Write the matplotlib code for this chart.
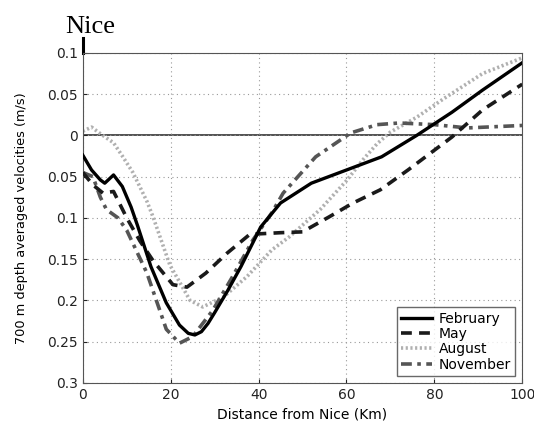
import matplotlib
matplotlib.use("Agg")
import matplotlib.pyplot as plt

# distance (km) / velocity (m/s)
feb_x = [0, 2, 4, 5, 7, 9, 11, 12.5, 15.5, 19, 22, 24, 25.5, 27, 28.5, 30, 33, 36, 40.5, 45, 52, 60, 68, 76, 84, 91, 100]
feb_y = [-0.024, -0.042, -0.054, -0.058, -0.048, -0.062, -0.087, -0.11, -0.159, -0.203, -0.23, -0.24, -0.242,
         -0.238, -0.228, -0.215, -0.188, -0.159, -0.111, -0.082, -0.058, -0.042, -0.026, 0.0, 0.028, 0.055, 0.088]

may_x = [0, 2.3, 4.6, 7, 10, 13, 16, 20.5, 23.7, 28, 32.8, 38, 45, 50, 56, 61.5, 67.7, 74, 84, 91, 100]
may_y = [-0.045, -0.06, -0.07, -0.068, -0.1, -0.128, -0.152, -0.181, -0.184, -0.167, -0.143, -0.12,
         -0.118, -0.117, -0.099, -0.082, -0.066, -0.042, -0.002, 0.031, 0.062]

aug_x = [0, 2, 4, 7, 9, 11.4, 14.6, 16, 19.8, 24.4, 27.3, 32, 37.4, 43, 47, 54, 60, 64, 67, 70, 76, 82, 91, 100]
aug_y = [0.005, 0.01, 0.002, -0.009, -0.025, -0.045, -0.08, -0.099, -0.157, -0.2, -0.208, -0.196, -0.171,
         -0.139, -0.123, -0.09, -0.055, -0.028, -0.01, 0.004, 0.022, 0.044, 0.075, 0.094]

nov_x = [0, 2.3, 4, 5.4, 8, 10, 14.6, 19, 22, 25, 29.6, 34, 38.7, 43, 45.6, 53, 61, 67, 72, 80, 87.5, 100]
nov_y = [-0.045, -0.05, -0.075, -0.09, -0.1, -0.115, -0.167, -0.235, -0.252, -0.244, -0.212, -0.172,
         -0.127, -0.094, -0.07, -0.026, 0.003, 0.013, 0.015, 0.013, 0.009, 0.012]

xticks = [0, 20, 40, 60, 80, 100]
yticks = [0.1, 0.05, 0, -0.05, -0.1, -0.15, -0.2, -0.25, -0.3]
ylabels = ["0.1", "0.05", "0", "0.05", "0.1", "0.15", "0.2", "0.25", "0.3"]

fig = plt.figure(figsize=(5.34, 4.23), dpi=100)
ax = fig.add_axes([0.155, 0.095, 0.823, 0.78])

ax.axhline(0, color="#333333", lw=1.2, zorder=1)
ax.plot(feb_x, feb_y, color="black", lw=2.4, label="February", zorder=4)
ax.plot(may_x, may_y, color="#1a1a1a", lw=2.6, ls=(0, (3, 2)), label="May", zorder=3)
ax.plot(aug_x, aug_y, color="#b0b0b0", lw=2.6, ls=(0, (0.6, 0.7)), label="August", zorder=2)
ax.plot(nov_x, nov_y, color="#555555", lw=2.6, ls=(0, (3, 1.5, 1, 1.5)), label="November", zorder=2)

ax.set_xlim(0, 100)
ax.set_ylim(-0.3, 0.1)
ax.set_xticks(xticks)
ax.set_yticks(yticks)
ax.set_yticklabels(ylabels)
ax.tick_params(direction="in", labelsize=10, colors="#222222", length=3)
ax.grid(True, ls=(0, (1, 3)), color="#999999", lw=0.8)
for s in ax.spines.values():
    s.set_color("#555555")

ax.set_xlabel("Distance from Nice (Km)", fontsize=10)
ax.set_ylabel("700 m depth averaged velocities (m/s)", fontsize=9.3, labelpad=14)

ax.legend(loc="lower right", fontsize=10, frameon=True, fancybox=False, edgecolor="#444444",
          handlelength=2.2, borderpad=0.3, labelspacing=0.1, handletextpad=0.5)

# marker for Nice at the coast
ax.plot([0, 0], [0.1, 0.118], color="black", lw=2.2, clip_on=False)
ax.text(1.8, 0.124, "Nice", family="Liberation Serif", fontsize=19, va="baseline", ha="center")

plt.savefig("out.png", dpi=100)
